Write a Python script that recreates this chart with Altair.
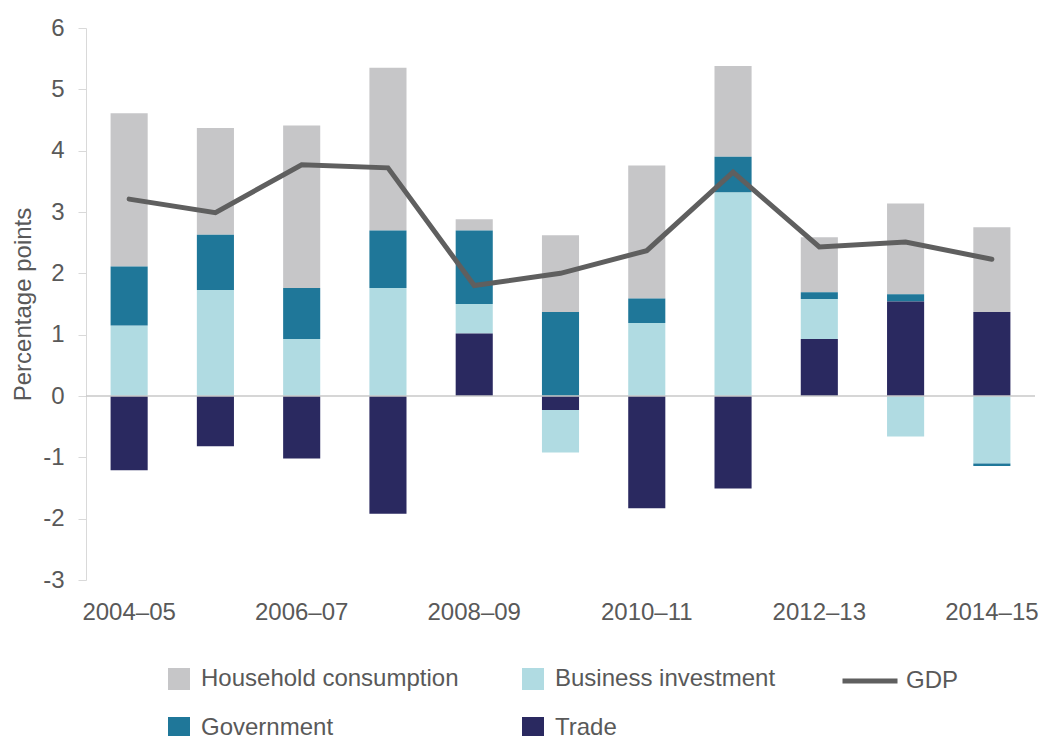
import altair as alt
import pandas as pd

years = ["2004–05", "2005–06", "2006–07", "2007–08", "2008–09", "2009–10",
         "2010–11", "2011–12", "2012–13", "2013–14", "2014–15"]
tick_labels = ["2004–05", "2006–07", "2008–09", "2010–11", "2012–13", "2014–15"]

household = [2.50, 1.74, 2.65, 2.65, 0.18, 1.25, 2.17, 1.48, 0.90, 1.48, 1.38]
business = [1.15, 1.73, 0.93, 1.76, 0.48, -0.69, 1.19, 3.32, 0.65, -0.66, -1.10]
government = [0.96, 0.90, 0.83, 0.94, 1.20, 1.37, 0.40, 0.58, 0.11, 0.12, -0.04]
trade = [-1.21, -0.82, -1.02, -1.92, 1.02, -0.23, -1.83, -1.51, 0.93, 1.54, 1.37]
gdp = [3.21, 2.99, 3.77, 3.72, 1.80, 2.00, 2.37, 3.65, 2.43, 2.51, 2.23]

components = ["Household consumption", "Business investment", "Government", "Trade"]
comp_colors = ["#c6c6c8", "#b0dbe2", "#1f7799", "#2a2960"]
stack_order = {"Trade": 0, "Business investment": 1, "Government": 2, "Household consumption": 3}

rows = []
for name, vals in zip(components, [household, business, government, trade]):
    for y, v in zip(years, vals):
        rows.append({"year": y, "component": name, "value": v, "ord": stack_order[name]})
bars_df = pd.DataFrame(rows)
gdp_df = pd.DataFrame({"year": years, "value": gdp, "series": ["GDP"] * len(years)})
zero_df = pd.DataFrame({"value": [0]})

FONT = "Liberation Sans"
TXT = "#595959"

x_enc = alt.X(
    "year:N", sort=years, title=None,
    scale=alt.Scale(paddingInner=0.57, paddingOuter=0.285),
    axis=alt.Axis(values=tick_labels, labelAngle=0, domain=False, ticks=False,
                  labelFontSize=24, labelFont=FONT, labelColor=TXT, labelPadding=20),
)
y_scale = alt.Scale(domain=[-3, 6], nice=False)

bars = alt.Chart(bars_df).mark_bar().encode(
    x=x_enc,
    y=alt.Y("value:Q", stack="zero", scale=y_scale,
            axis=alt.Axis(values=list(range(-3, 7)), grid=False, tickSize=8,
                          tickColor="#d9d9d9", domainColor="#d9d9d9",
                          labelExpr="'' + datum.value",
                          labelFontSize=24, labelFont=FONT, labelColor=TXT,
                          labelPadding=14, title="Percentage points",
                          titleFontSize=24, titleFont=FONT, titleColor=TXT,
                          titleFontWeight="normal", titlePadding=7)),
    fill=alt.Fill("component:N", scale=alt.Scale(domain=components, range=comp_colors),
                  legend=alt.Legend(orient="none", legendX=81, legendY=639, columns=2,
                                    direction="horizontal",
                                    columnPadding=62, rowPadding=25, symbolType="square",
                                    symbolSize=484, symbolStrokeWidth=0, labelFontSize=24,
                                    labelFont=FONT, labelColor=TXT, labelOffset=10,
                                    labelLimit=400, title=None)),
    order=alt.Order("ord:Q"),
)

zero = alt.Chart(zero_df).mark_rule(color="#c8c8c8", strokeWidth=1.5).encode(
    y=alt.Y("value:Q", scale=y_scale)
)

line = alt.Chart(gdp_df).mark_line(strokeWidth=5, strokeCap="round", strokeJoin="miter").encode(
    x=alt.X("year:N", sort=years, bandPosition=0.5),
    y=alt.Y("value:Q", scale=y_scale),
    stroke=alt.Stroke("series:N", scale=alt.Scale(domain=["GDP"], range=["#5f5f5f"]),
                      legend=alt.Legend(orient="none", legendX=754, legendY=623,
                                        symbolType="stroke", symbolSize=3025,
                                        symbolStrokeWidth=5, labelFontSize=24,
                                        labelFont=FONT, labelColor=TXT, labelOffset=6,
                                        title=None)),
)

chart = alt.layer(bars, zero, line).resolve_scale(fill="independent", stroke="independent").properties(
    width=949, height=552,
    autosize=alt.AutoSizeParams(type="none"),
    padding={"left": 78, "top": 20, "right": 10, "bottom": 156},
).configure_view(stroke=None)

chart.save("out.html", embed_options={"renderer": "svg", "actions": False})
